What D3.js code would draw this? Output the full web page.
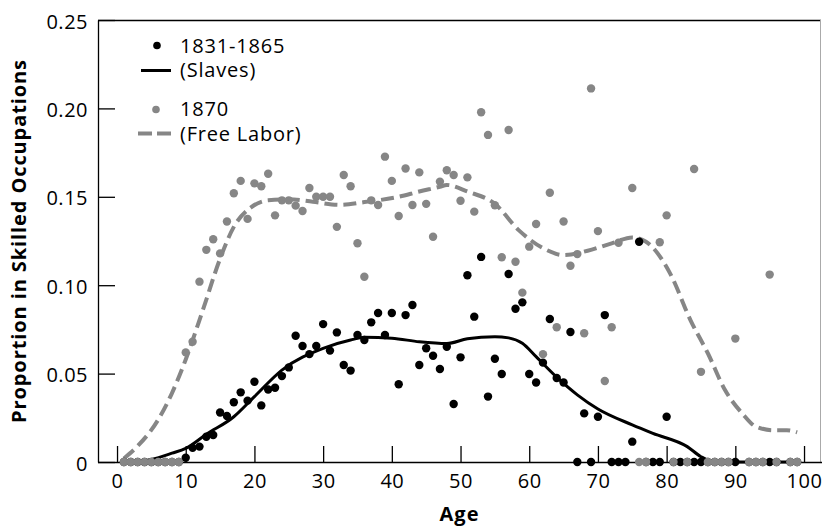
<!DOCTYPE html>
<html>
<head>
<meta charset="utf-8">
<script src="https://cdn.jsdelivr.net/npm/d3@7"></script>
<style>
  body { margin: 0; background: #fff; }
  text { font-family: "Open Sans", "Noto Sans", sans-serif; }
</style>
</head>
<body>
<div class="chart"></div>
<script>
var svgWidth = 822;
var svgHeight = 528;

// plot area in page pixels
var margin = { top: 20, right: 1, bottom: 66, left: 98 };
var width = svgWidth - margin.left - margin.right;
var height = svgHeight - margin.top - margin.bottom;

// 1831-1865 (slaves): age and proportion in skilled occupations
var slaveAges = [1, 2, 3, 4, 5, 6, 7, 8, 9, 10, 11, 12, 13, 14, 15, 16, 17, 18, 19, 20,
  21, 22, 23, 24, 25, 26, 27, 28, 29, 30, 31, 32, 33, 34, 35, 36, 37, 38, 39, 40,
  41, 42, 43, 44, 45, 46, 47, 48, 49, 50, 51, 52, 53, 54, 55, 56, 57, 58, 59, 60,
  61, 62, 63, 64, 65, 66, 67, 68, 69, 70, 71, 72, 73, 74, 75, 76, 77, 78, 79, 80,
  81, 82, 83, 84, 85, 86, 87, 88, 89, 90, 92, 93, 94, 95, 96, 98, 99];
var slaveVals = [0, 0, 0, 0, 0, 0, 0, 0, 0, 0.0024, 0.008, 0.0087, 0.0143, 0.0153, 0.028, 0.026, 0.0338, 0.0394, 0.0347, 0.0454,
  0.032, 0.041, 0.042, 0.0486, 0.0535, 0.0714, 0.0656, 0.061, 0.0656, 0.078, 0.063, 0.0733, 0.0549, 0.0517, 0.0718, 0.069, 0.079, 0.0843, 0.0718, 0.0843,
  0.044, 0.0831, 0.0888, 0.0549, 0.0643, 0.0601, 0.0526, 0.0652, 0.0328, 0.0592, 0.1056, 0.0822, 0.116, 0.037, 0.0584, 0.0498, 0.1063, 0.0867, 0.0903, 0.0498,
  0.045, 0.0562, 0.0809, 0.0475, 0.045, 0.0735, 0, 0.0275, 0, 0.0256, 0.0831, 0, 0, 0, 0.0115, 0.1246, 0, 0, 0, 0.0256,
  0, 0, 0, 0, 0, 0, 0, 0, 0, 0, 0, 0, 0, 0, 0, 0, 0];

// 1870 (free labor)
var freeAges = [1, 2, 3, 4, 5, 6, 7, 8, 9, 10, 11, 12, 13, 14, 15, 16, 17, 18, 19, 20,
  21, 22, 23, 24, 25, 26, 27, 28, 29, 30, 31, 32, 33, 34, 35, 36, 37, 38, 39, 40,
  41, 42, 43, 44, 45, 46, 47, 48, 49, 50, 51, 52, 53, 54, 55, 56, 57, 58, 59, 60,
  61, 62, 63, 64, 65, 66, 67, 68, 69, 70, 71, 72, 73, 75, 76, 77, 79, 80,
  81, 83, 84, 85, 86, 87, 88, 89, 90, 92, 93, 94, 95, 96, 98, 99];
var freeVals = [0, 0, 0, 0, 0, 0, 0, 0, 0, 0.062, 0.068, 0.102, 0.120, 0.126, 0.118, 0.136, 0.152, 0.159, 0.1375, 0.1576,
  0.156, 0.163, 0.1395, 0.148, 0.148, 0.145, 0.142, 0.155, 0.150, 0.150, 0.150, 0.133, 0.1623, 0.156, 0.1237, 0.1048, 0.148, 0.1454, 0.1727, 0.159,
  0.1391, 0.166, 0.1454, 0.1638, 0.146, 0.1274, 0.1586, 0.165, 0.1623, 0.1478, 0.161, 0.1416, 0.1978, 0.185, 0.1452, 0.1158, 0.1878, 0.1133, 0.0958, 0.1218,
  0.1346, 0.061, 0.1523, 0.0762, 0.136, 0.111, 0.1176, 0.0728, 0.2113, 0.1306, 0.0458, 0.0762, 0.124, 0.155, 0, 0, 0.1243, 0.1395,
  0, 0, 0.1657, 0.051, 0, 0, 0, 0, 0.0698, 0, 0, 0, 0.106, 0, 0, 0];

// smoothed curves
var slaveCurveAges = [2, 5, 8, 10, 13, 17, 20, 24, 30, 34, 36, 40, 44, 48, 51, 55, 57, 59, 61, 64, 67, 70, 75, 78, 83, 85, 87, 99];
var slaveCurveVals = [0, 0.0015, 0.005, 0.0077, 0.0157, 0.0256, 0.037, 0.052, 0.0643, 0.069, 0.0705, 0.070, 0.068, 0.067, 0.0697, 0.0709, 0.0702, 0.0672, 0.0596, 0.048, 0.038, 0.030, 0.021, 0.0162, 0.0087, 0.003, 0, 0];

var freeCurveAges = [1, 3, 6, 8, 10, 12.5, 15, 17, 19.5, 22, 25, 28.5, 32.5, 36, 41, 44, 47, 48, 51, 55, 58.5, 62.5, 65, 68.5, 72, 75, 77, 80.5, 83.5, 86, 88.5, 91, 93, 95.5, 97.5, 99];
var freeCurveVals = [0.002, 0.009, 0.024, 0.039, 0.058, 0.086, 0.115, 0.133, 0.144, 0.148, 0.1486, 0.1472, 0.1454, 0.147, 0.150, 0.153, 0.1557, 0.1567, 0.153, 0.146, 0.131, 0.12, 0.117, 0.1195, 0.1237, 0.127, 0.1246, 0.1067, 0.080, 0.0615, 0.0407, 0.0275, 0.020, 0.018, 0.018, 0.0168];

var xTicks = [0, 10, 20, 30, 40, 50, 60, 70, 80, 90, 100];
var yTicks = [0, 0.05, 0.10, 0.15, 0.20, 0.25];
var yTickLabels = ["0", "0.05", "0.10", "0.15", "0.20", "0.25"];

var grey = "#868686";

var svg = d3.select(".chart")
  .append("svg")
  .attr("width", svgWidth)
  .attr("height", svgHeight);

var chartGroup = svg.append("g")
  .attr("transform", `translate(${margin.left}, ${margin.top})`);

var xScale = d3.scaleLinear()
  .domain([-2.77, 102.47])
  .range([0, width]);

var yScale = d3.scaleLinear()
  .domain([0, 0.25])
  .range([height, 0]);

// frame: black top, light grey right
chartGroup.append("line")
  .attr("x1", 0).attr("x2", width)
  .attr("y1", 0.5).attr("y2", 0.5)
  .attr("stroke", "#000")
  .attr("stroke-width", 1.3);

chartGroup.append("line")
  .attr("x1", width - 0.5).attr("x2", width - 0.5)
  .attr("y1", 0).attr("y2", height)
  .attr("stroke", "#aaa")
  .attr("stroke-width", 1);

// axes, ticks point inward
var bottomAxis = d3.axisBottom(xScale)
  .tickValues(xTicks)
  .tickSizeInner(-16)
  .tickSizeOuter(0)
  .tickPadding(12)
  .tickFormat(d3.format("d"));

var leftAxis = d3.axisLeft(yScale)
  .tickValues(yTicks)
  .tickSizeInner(-17)
  .tickSizeOuter(0)
  .tickPadding(10)
  .tickFormat((d, i) => yTickLabels[i]);

var xAxis = chartGroup.append("g")
  .attr("transform", `translate(0, ${height})`)
  .call(bottomAxis);

var yAxis = chartGroup.append("g")
  .call(leftAxis);

xAxis.select(".domain").attr("d", `M0,0.5H${width + 1}`);
[xAxis, yAxis].forEach(function(ax) {
  ax.selectAll("text")
    .attr("font-size", "20px")
    .attr("font-family", "'Open Sans', sans-serif")
    .attr("letter-spacing", "0.5px")
    .attr("fill", "#000");
  ax.selectAll("line, path").attr("stroke", "#000").attr("stroke-width", 1.3);
});
yAxis.selectAll("text").attr("dy", "0.4em");

// smoothed lines
var lineGen = d3.line()
  .x(d => xScale(d[0]))
  .y(d => yScale(d[1]))
  .curve(d3.curveMonotoneX);

chartGroup.append("path")
  .datum(slaveCurveAges.map((a, i) => [a, slaveCurveVals[i]]))
  .attr("d", lineGen)
  .attr("fill", "none")
  .attr("stroke", "#000")
  .attr("stroke-width", 3);

chartGroup.append("path")
  .datum(freeCurveAges.map((a, i) => [a, freeCurveVals[i]]))
  .attr("d", lineGen)
  .attr("fill", "none")
  .attr("stroke", grey)
  .attr("stroke-width", 4)
  .attr("stroke-dasharray", "13,6");

// points
chartGroup.selectAll(".slaveDot")
  .data(slaveAges.map((a, i) => [a, slaveVals[i]]))
  .enter()
  .append("circle")
  .classed("slaveDot", true)
  .attr("cx", d => xScale(d[0]))
  .attr("cy", d => yScale(d[1]))
  .attr("r", 4.2)
  .attr("fill", "#000");

chartGroup.selectAll(".freeDot")
  .data(freeAges.map((a, i) => [a, freeVals[i]]))
  .enter()
  .append("circle")
  .classed("freeDot", true)
  .attr("cx", d => xScale(d[0]))
  .attr("cy", d => yScale(d[1]))
  .attr("r", 4.2)
  .attr("fill", grey);

// legend
var legend = svg.append("g");
legend.append("circle").attr("cx", 157).attr("cy", 45.5).attr("r", 3.8).attr("fill", "#000");
legend.append("line").attr("x1", 141).attr("x2", 171).attr("y1", 70.5).attr("y2", 70.5)
  .attr("stroke", "#000").attr("stroke-width", 3);
legend.append("circle").attr("cx", 156).attr("cy", 109.5).attr("r", 3.8).attr("fill", grey);
legend.append("line").attr("x1", 138).attr("x2", 171).attr("y1", 133.5).attr("y2", 133.5)
  .attr("stroke", grey).attr("stroke-width", 4).attr("stroke-dasharray", "14,5");

var legendLabels = [["1831-1865", 52.5], ["(Slaves)", 77], ["1870", 116], ["(Free Labor)", 140.5]];
legend.selectAll(".legendText")
  .data(legendLabels)
  .enter()
  .append("text")
  .classed("legendText", true)
  .attr("x", 180)
  .attr("y", d => d[1])
  .attr("font-size", "20px")
  .attr("letter-spacing", "0.8px")
  .text(d => d[0]);

// axis titles
svg.append("text")
  .attr("transform", `translate(${margin.left + width / 2}, 521)`)
  .attr("text-anchor", "middle")
  .attr("font-size", "20px")
  .attr("font-weight", "bold")
  .attr("letter-spacing", "1px")
  .text("Age");

svg.append("text")
  .attr("transform", "translate(26, 241) rotate(-90)")
  .attr("text-anchor", "middle")
  .attr("font-size", "20px")
  .attr("font-weight", "bold")
  .attr("letter-spacing", "0.9px")
  .text("Proportion in Skilled Occupations");
</script>
</body>
</html>
